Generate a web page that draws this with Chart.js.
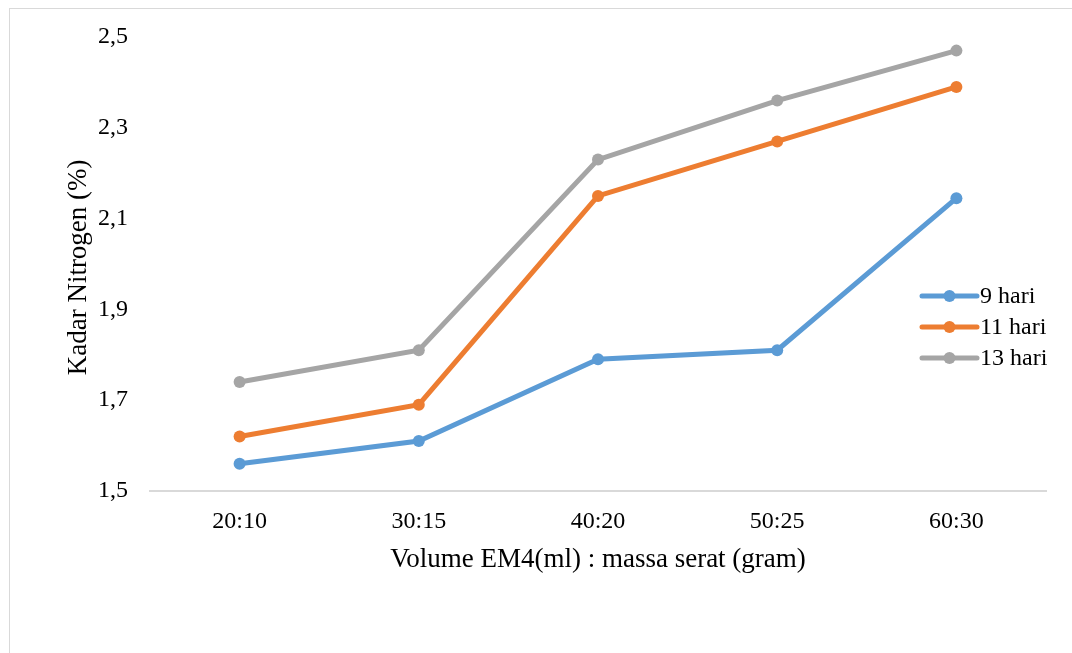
<!DOCTYPE html>
<html>
<head>
<meta charset="utf-8">
<script src="https://cdn.jsdelivr.net/npm/chart.js@4/dist/chart.umd.min.js"></script>
<style>
  html, body { margin: 0; padding: 0; background: #fff; }
  #wrap { position: relative; width: 1072px; height: 653px; overflow: hidden; }
  #frame { position: absolute; left: 9px; top: 8px; width: 1100px; height: 700px;
           border: 1.5px solid #d9d9d9; box-sizing: border-box; }
  canvas { position: absolute; left: 0; top: 0; }
</style>
</head>
<body>
<div id="wrap">
  <div id="frame"></div>
  <canvas id="c" width="1072" height="653"></canvas>
</div>
<script>
// Rasio volume EM4 (ml) : massa serat (gram)
const categories = ['20:10', '30:15', '40:20', '50:25', '60:30'];
// Kadar nitrogen (%) per lama fermentasi
const hari9  = [1.56, 1.61, 1.79, 1.81, 2.145];
const hari11 = [1.62, 1.69, 2.15, 2.27, 2.39];
const hari13 = [1.74, 1.81, 2.23, 2.36, 2.47];
const seriesNames = ['9 hari', '11 hari', '13 hari'];
const seriesColors = ['#5B9BD5', '#ED7D31', '#A5A5A5'];
const yTicks = [1.5, 1.7, 1.9, 2.1, 2.3, 2.5];

const serif = "'Liberation Serif', 'Times New Roman', serif";

function makeSet(label, data, color) {
  return {
    label, data,
    borderColor: color, backgroundColor: color,
    borderWidth: 5, pointRadius: 6, pointHoverRadius: 6,
    pointBorderWidth: 0, tension: 0, clip: false
  };
}

// Legenda di sisi kanan: garis dengan penanda bulat
const lineLegend = {
  id: 'lineLegend',
  afterDraw(chart) {
    const ctx = chart.ctx;
    const x0 = 922, x1 = 977, yStart = 296, step = 31;
    ctx.save();
    chart.data.datasets.forEach((ds, i) => {
      const y = yStart + i * step;
      ctx.strokeStyle = ds.borderColor;
      ctx.lineWidth = 5;
      ctx.lineCap = 'round';
      ctx.beginPath(); ctx.moveTo(x0, y); ctx.lineTo(x1, y); ctx.stroke();
      ctx.fillStyle = ds.borderColor;
      ctx.beginPath(); ctx.arc((x0 + x1) / 2, y, 6, 0, Math.PI * 2); ctx.fill();
      ctx.fillStyle = '#000';
      ctx.font = '24px ' + serif;
      ctx.textBaseline = 'middle';
      ctx.textAlign = 'left';
      ctx.fillText(ds.label, x1 + 3, y + 1);
    });
    ctx.restore();
  }
};

new Chart(document.getElementById('c'), {
  type: 'line',
  data: {
    labels: categories,
    datasets: [
      makeSet(seriesNames[0], hari9, seriesColors[0]),
      makeSet(seriesNames[1], hari11, seriesColors[1]),
      makeSet(seriesNames[2], hari13, seriesColors[2])
    ]
  },
  options: {
    responsive: false,
    animation: false,
    devicePixelRatio: 1,
    layout: { padding: { left: 0, top: 37, right: 26, bottom: 76 } },
    plugins: { legend: { display: false }, tooltip: { enabled: false } },
    scales: {
      x: {
        offset: true,
        grid: { display: false, drawTicks: false },
        border: { display: true, color: '#d9d9d9', width: 2 },
        ticks: { color: '#000', font: { family: serif, size: 24 }, padding: 16, maxRotation: 0 },
        title: {
          display: true, text: 'Volume EM4(ml) : massa serat (gram)',
          color: '#000', font: { family: serif, size: 27 }, padding: { top: 0, bottom: 1 }
        },
        afterFit(scale) { scale.height = 86; }
      },
      y: {
        min: 1.5, max: 2.5,
        afterBuildTicks(scale) { scale.ticks = yTicks.map(v => ({ value: v })); },
        grid: { display: false, drawTicks: false },
        border: { display: false },
        ticks: {
          color: '#000', font: { family: serif, size: 24 }, padding: 22,
          callback: v => v.toFixed(1).replace('.', ',')
        },
        title: {
          display: true, text: 'Kadar Nitrogen (%) ',
          color: '#000', font: { family: serif, size: 27 }, padding: { top: 63, bottom: 0 }
        },
        afterFit(scale) { scale.width = 150; }
      }
    }
  },
  plugins: [lineLegend]
});
</script>
</body>
</html>
